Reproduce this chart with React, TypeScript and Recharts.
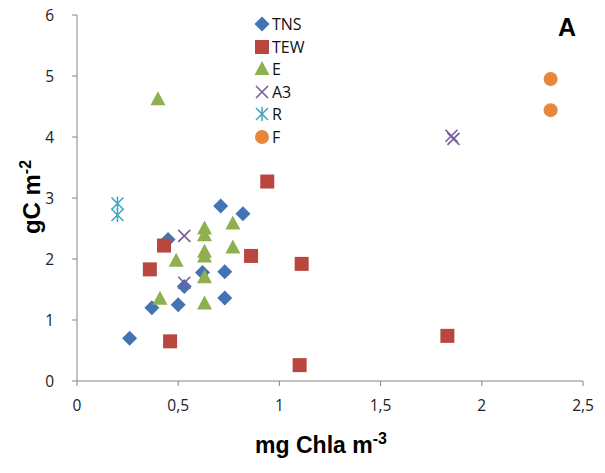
import React from 'react'
import { ScatterChart, Scatter, XAxis, YAxis } from 'recharts'

// mg Chla m-3 (x) vs gC m-2 (y), one array per site group
const TNS = [
  { x: 0.71, y: 2.87 }, { x: 0.82, y: 2.74 }, { x: 0.45, y: 2.32 },
  { x: 0.62, y: 1.78 }, { x: 0.73, y: 1.79 }, { x: 0.53, y: 1.55 },
  { x: 0.37, y: 1.2 }, { x: 0.5, y: 1.25 }, { x: 0.73, y: 1.36 },
  { x: 0.26, y: 0.7 },
]
const TEW = [
  { x: 0.94, y: 3.27 }, { x: 0.43, y: 2.22 }, { x: 0.86, y: 2.05 },
  { x: 0.36, y: 1.83 }, { x: 0.46, y: 0.65 }, { x: 1.11, y: 1.92 },
  { x: 1.1, y: 0.26 }, { x: 1.83, y: 0.74 },
]
const E = [
  { x: 0.4, y: 4.62 }, { x: 0.63, y: 2.5 }, { x: 0.63, y: 2.39 },
  { x: 0.77, y: 2.58 }, { x: 0.63, y: 2.12 }, { x: 0.63, y: 2.04 },
  { x: 0.77, y: 2.19 }, { x: 0.49, y: 1.97 }, { x: 0.63, y: 1.7 },
  { x: 0.41, y: 1.35 }, { x: 0.63, y: 1.27 },
]
const A3 = [
  { x: 0.53, y: 2.38 }, { x: 0.53, y: 1.61 }, { x: 1.85, y: 4.02 }, { x: 1.86, y: 3.97 },
]
const R = [{ x: 0.2, y: 2.91 }, { x: 0.2, y: 2.72 }]
const F = [{ x: 2.34, y: 4.95 }, { x: 2.34, y: 4.44 }]

const xTicks = [0, 0.5, 1, 1.5, 2, 2.5]
const yTicks = [0, 1, 2, 3, 4, 5, 6]

const COLORS: Record<string, string> = {
  TNS: '#4274b5',
  TEW: '#b9473f',
  E: '#8fb04e',
  A3: '#7a5d9c',
  R: '#41a4bd',
  F: '#e8873a',
}

const AXIS = '#868686'
const tickStyle = { fontSize: 15.5, fill: '#222', fontFamily: '"Open Sans", sans-serif' }

function Marker({ kind, cx, cy }: { kind: string; cx: number; cy: number }) {
  const c = COLORS[kind]
  switch (kind) {
    case 'TNS':
      return <path d={`M${cx},${cy - 7.5}L${cx + 7.5},${cy}L${cx},${cy + 7.5}L${cx - 7.5},${cy}Z`} fill={c} />
    case 'TEW':
      return <rect x={cx - 7} y={cy - 7} width={14} height={14} fill={c} />
    case 'E':
      return <path d={`M${cx},${cy - 8}L${cx + 7.5},${cy + 6}L${cx - 7.5},${cy + 6}Z`} fill={c} />
    case 'A3':
      return (
        <path d={`M${cx - 6},${cy - 6}L${cx + 6},${cy + 6}M${cx + 6},${cy - 6}L${cx - 6},${cy + 6}`}
          stroke={c} strokeWidth={1.6} fill="none" />
      )
    case 'R':
      return (
        <path d={`M${cx - 6},${cy - 6}L${cx + 6},${cy + 6}M${cx + 6},${cy - 6}L${cx - 6},${cy + 6}M${cx},${cy - 7}L${cx},${cy + 7}`}
          stroke={c} strokeWidth={1.5} fill="none" />
      )
    default:
      return <circle cx={cx} cy={cy} r={7} fill={c} />
  }
}

const shapeFor = (kind: string) => (p: any) => <Marker kind={kind} cx={p.cx} cy={p.cy} />

const SERIES: [string, { x: number; y: number }[]][] = [
  ['TNS', TNS], ['TEW', TEW], ['E', E], ['A3', A3], ['R', R], ['F', F],
]

function LegendBox() {
  return (
    <div style={{ position: 'absolute', left: 254, top: 13, fontFamily: '"Open Sans", sans-serif', fontSize: 16, color: '#111' }}>
      {SERIES.map(([name]) => (
        <div key={name} style={{ display: 'flex', alignItems: 'center', height: 22.5 }}>
          <svg width={16} height={16} style={{ marginRight: 2 }}>
            <Marker kind={name} cx={8} cy={8} />
          </svg>
          <span>{name}</span>
        </div>
      ))}
    </div>
  )
}

export default function App() {
  return (
    <div style={{ position: 'absolute', left: 0, top: 0, width: 605, height: 473, background: '#fff' }}>
      <ScatterChart width={605} height={473} margin={{ top: 15, right: 22, bottom: 0, left: 0 }}>
        <XAxis
          type="number" dataKey="x" domain={[0, 2.5]} ticks={xTicks} height={92}
          stroke={AXIS} tickSize={5} tickMargin={14} tick={tickStyle}
          tickFormatter={(v: number) => String(v).replace('.', ',')}
        />
        <YAxis
          type="number" dataKey="y" domain={[0, 6]} ticks={yTicks} width={77}
          stroke={AXIS} tickSize={5} tickMargin={18} tick={tickStyle}
        />
        {SERIES.map(([name, data]) => (
          <Scatter key={name} name={name} data={data} fill={COLORS[name]}
            shape={shapeFor(name)} isAnimationActive={false} />
        ))}
      </ScatterChart>
      <LegendBox />
      <svg width={605} height={473} style={{ position: 'absolute', left: 0, top: 0, pointerEvents: 'none' }}
        fontFamily='"Liberation Sans", Arial, sans-serif' fontWeight="bold">
        <text x={567} y={36} fontSize={25} textAnchor="middle" fill="#000">A</text>
        <text x={321} y={453} fontSize={23} textAnchor="middle" fill="#000">
          mg Chla m<tspan fontSize={16} dy={-9}>-3</tspan>
        </text>
        <text transform="translate(40,197) rotate(-90)" fontSize={24} textAnchor="middle" fill="#000">
          gC m<tspan fontSize={16} dy={-9}>-2</tspan>
        </text>
      </svg>
    </div>
  )
}
